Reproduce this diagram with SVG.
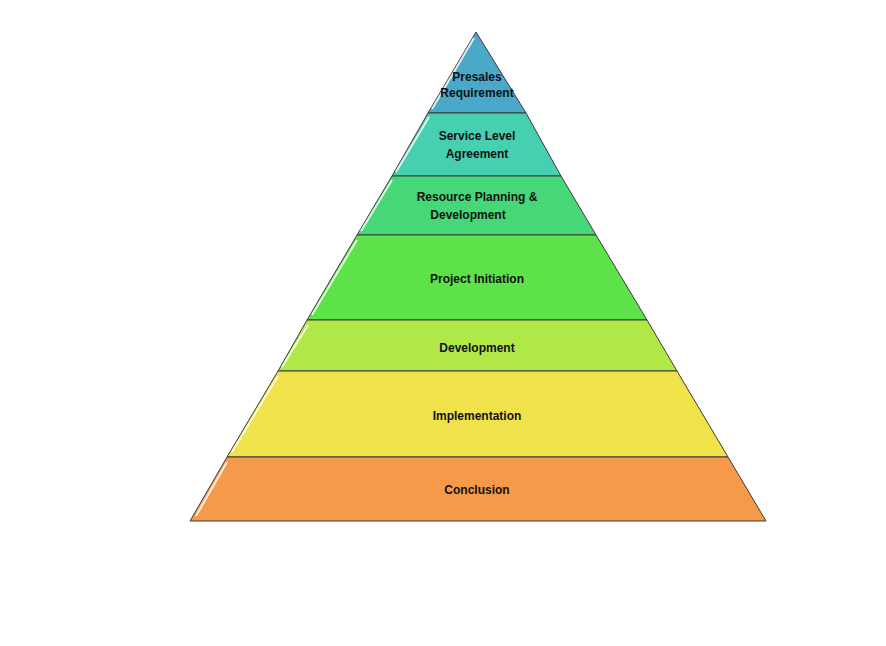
<svg xmlns="http://www.w3.org/2000/svg" width="886" height="646" viewBox="0 0 886 646">
<style>
.l{stroke:#3a3a3a;stroke-width:1}
.h{fill:none;stroke:#ffffff;stroke-width:2;stroke-opacity:0.8}
text{font-family:"Liberation Sans",Arial,sans-serif;font-weight:bold;font-size:12px;fill:#111;text-anchor:middle}
</style>
<rect width="886" height="646" fill="#fff"/>
<g id="presales"><polygon class="l" fill="#4aa8c8" points="476,32 428,113 526,113"/><line class="h" x1="474" y1="38" x2="432" y2="109"/><text x="477" y="81">Presales</text><text x="477" y="97">Requirement</text></g>
<g id="sla"><polygon class="l" fill="#46cfb0" points="428,113 526,113 561,176 392,176"/><line class="h" x1="429" y1="117" x2="396" y2="172"/><text x="477" y="140">Service Level</text><text x="477" y="158">Agreement</text></g>
<g id="resource"><polygon class="l" fill="#46d878" points="392,176 561,176 596,235 357,235"/><line class="h" x1="392" y1="180" x2="361" y2="231"/><text x="477" y="201">Resource Planning  &amp;</text><text x="468" y="219">Development</text></g>
<g id="initiation"><polygon class="l" fill="#5ee24a" points="357,235 596,235 647,320 307,320"/><line class="h" x1="357" y1="240" x2="312" y2="315"/><text x="477" y="283">Project Initiation</text></g>
<g id="development"><polygon class="l" fill="#b0e848" points="307,320 647,320 677,371 278,371"/><line class="h" x1="308" y1="325" x2="282" y2="367"/><text x="477" y="352">Development</text></g>
<g id="implementation"><polygon class="l" fill="#efe24a" points="278,371 677,371 728,457 227,457"/><line class="h" x1="278" y1="376" x2="232" y2="452"/><text x="477" y="420">Implementation</text></g>
<g id="conclusion"><polygon class="l" fill="#f59a4a" points="227,457 728,457 766,521 190,521"/><line class="h" x1="227" y1="462" x2="196" y2="516"/><text x="477" y="494">Conclusion</text></g>
<g id="connectors"/>
</svg>
